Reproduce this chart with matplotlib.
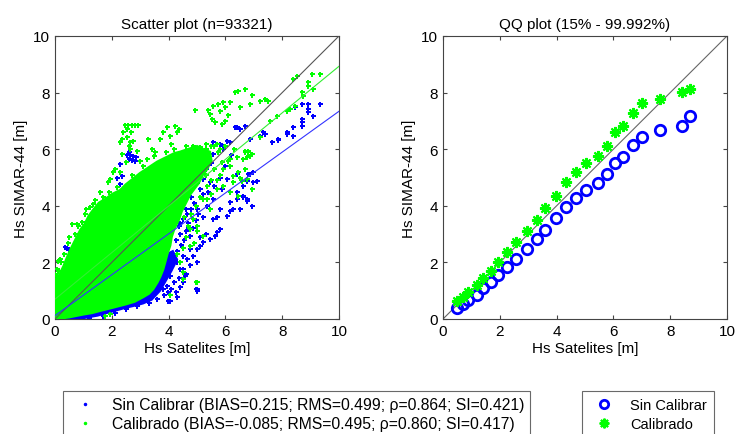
import matplotlib.pyplot as plt
import numpy as np
from matplotlib.lines import Line2D

plt.rcParams['font.family'] = ['Liberation Sans', 'DejaVu Sans']

BLUE = (0, 0, 1)
GREEN = (0, 1, 0)

# dense core of each cloud (outline of the solid region)
core_sin_x = [0, 0.5, 1.0, 1.5, 2.0, 2.5, 2.8, 3.1, 3.4, 3.7, 3.9, 4.1, 4.2, 4.3, 4.15, 3.95, 3.0, 0]
core_sin_y = [0, 0.0, 0.03, 0.12, 0.26, 0.4, 0.47, 0.55, 0.68, 1.0, 1.35, 1.7, 1.9, 2.1, 2.4, 2.3, 1.5, 0]
core_cal_x = [0, 0.5, 1.0, 1.3, 1.6, 2.0, 2.5, 2.8, 3.1, 3.3, 3.45, 3.6, 3.7, 3.8, 3.87, 3.95, 4.05,
              4.1, 4.2, 4.35, 4.45, 4.6, 4.75, 4.9, 5.05, 5.2, 5.35, 5.5, 5.45, 5.2, 5.0,
              4.7, 4.4, 4.2, 3.9, 3.6, 3.3, 3.0, 2.75, 2.5, 2.3, 2.0, 1.8, 1.55, 1.35, 1.2, 1.05,
              0.9, 0.75, 0.55, 0.4, 0.3, 0.15, 0.05, 0]
core_cal_y = [0, 0.07, 0.17, 0.22, 0.3, 0.4, 0.53, 0.62, 0.78, 0.9, 1.06, 1.3, 1.5, 1.75, 2.0, 2.3, 2.6,
              2.9, 3.2, 3.5, 3.8, 4.1, 4.4, 4.6, 4.8, 5.1, 5.3, 5.6, 5.9, 6.0, 6.1,
              6.0, 5.9, 5.85, 5.7, 5.55, 5.35, 5.15, 4.95, 4.75, 4.55, 4.4, 4.25, 4.1, 3.85, 3.65, 3.35,
              3.15, 2.85, 2.45, 2.1, 1.85, 1.55, 1.45, 1.3]

# scattered points outside the cores
sin_x = [6.40, 6.51, 6.87, 7.22, 7.39, 7.63, 7.86, 8.16, 8.39, 8.39, 8.45, 8.69, 8.92, 8.92, 8.69, 8.69, 8.69,
         9.33, 9.10, 8.92, 6.16, 5.81, 5.57, 5.93, 5.57, 6.05, 6.34, 6.69, 7.33, 7.86, 8.16,
         6.81, 7.10, 6.98, 6.63, 6.75, 6.93, 6.40, 6.51, 6.16, 5.81, 5.57, 5.81, 5.69, 5.46, 5.11, 4.87,
         4.64, 4.99, 5.63, 5.22, 4.99, 4.75, 4.52, 4.29, 4.40, 4.05, 3.93, 3.81, 3.99, 4.40, 4.52, 4.99,
         6.16, 6.40, 6.63, 6.75, 6.28, 6.05, 5.69, 6.40, 6.87, 6.98, 6.75, 6.63, 6.05, 5.87, 5.57, 5.34,
         4.99, 5.11, 5.46, 5.22, 4.57, 4.51, 4.98, 4.05, 3.99, 1.53,
         2.55, 2.65, 2.75, 2.85, 2.60, 2.70, 2.80, 2.62, 2.29, 2.35, 0.36, 0.42, 0.48, 0.55, 0.62,
         1.47, 2.29, 2.17, 4.11, 0.24, 4.6, 4.8, 5.0, 5.3, 5.5, 4.4, 4.7, 5.2,
         4.2, 4.3, 4.45, 4.55, 4.4, 4.6, 4.7, 4.5, 4.65, 4.8, 4.9, 4.25, 4.35, 4.75, 4.85, 4.95, 5.05,
         5.1, 5.3, 5.0, 4.75, 4.6, 4.35, 4.2, 4.1, 4.25, 3.85, 3.6, 3.3, 2.9, 2.5, 2.1, 1.7, 1.2, 4.3,
         5.2, 5.4, 5.6, 5.8, 6.0, 6.2, 5.9]
sin_y = [6.77, 6.71, 6.36, 6.48, 6.54, 6.24, 6.36, 6.54, 6.77, 6.48, 7.48, 7.60, 7.42, 7.30, 7.07, 6.95, 6.83,
         7.60, 7.18, 7.60, 6.24, 6.18, 5.83, 6.00, 6.24, 6.30, 6.77, 6.83, 6.60, 6.33, 6.60,
         5.12, 4.89, 4.83, 4.36, 4.24, 4.00, 4.24, 3.89, 3.83, 3.89, 3.53, 3.18, 3.06, 2.83, 2.59, 2.24,
         2.12, 1.06, 2.94, 2.71, 2.47, 2.47, 2.24, 2.00, 1.77, 1.53, 1.18, 1.06, 0.65, 1.12, 1.30, 1.00,
         4.12, 4.48, 4.30, 4.18, 3.89, 3.65, 3.59, 5.12, 5.12, 5.18, 4.89, 4.71, 4.95, 4.59, 4.24, 4.00,
         3.89, 4.59, 4.83, 4.95, 1.53, 1.76, 1.06, 0.65, 0.94, 0.24,
         5.80, 5.78, 5.75, 5.72, 5.65, 5.62, 5.60, 5.90, 5.48, 5.06, 2.55, 2.50, 2.45, 2.40, 2.42,
         3.12, 4.77, 5.00, 3.77, 1.41, 3.9, 4.3, 4.8, 5.3, 5.5, 3.4, 3.2, 3.6,
         2.2, 2.4, 2.6, 2.8, 3.0, 3.1, 3.4, 3.55, 3.7, 3.9, 4.1, 2.8, 3.3, 2.95, 3.2, 3.5, 3.7,
         2.9, 3.0, 2.0, 1.9, 1.6, 1.45, 1.3, 1.05, 0.95, 0.85, 0.7, 0.55, 0.45, 0.35, 0.22, 0.12, 0.03, 0.78,
         4.4, 4.5, 4.7, 5.0, 5.4, 5.8, 6.1]

cal_x = [6.34, 6.45, 6.69, 4.93, 5.40, 5.57, 5.75, 5.93, 6.16, 5.99, 5.81, 5.46, 6.10, 5.99, 5.87, 5.63, 5.52,
         6.51, 6.87, 6.93, 7.22, 7.39, 7.51, 8.39, 8.51, 9.04, 9.33, 8.92, 8.92, 8.69, 8.74, 9.10, 8.45,
         8.27, 8.16, 7.81, 7.57, 7.22,
         4.87, 5.11, 6.69, 6.81, 6.93, 6.75, 6.63, 6.40, 6.16, 6.45, 6.69, 6.75, 6.28, 5.93, 5.69, 6.16,
         6.45, 5.34, 4.99, 5.22, 4.75, 4.52, 4.52, 4.99, 6.28, 6.51, 6.57, 6.69, 6.81, 6.87, 5.75, 5.87,
         6.16, 5.34, 5.22, 5.46, 4.87, 4.75, 6.93, 5.2, 5.4, 5.6, 5.3, 5.5, 5.8, 5.1, 5.5, 5.7, 5.0, 5.3,
         2.46, 2.58, 2.70, 2.82, 2.92, 2.52, 2.69, 2.52, 2.64, 2.35, 2.29, 2.64, 2.88, 2.35, 3.29, 3.70,
         3.93, 4.23, 3.81, 4.05, 4.29, 3.52, 3.23, 2.11, 2.05, 2.4, 2.75, 2.6, 2.5, 4.35, 4.1, 3.4, 3.0,
         0.76, 0.94, 0.59, 1.12, 1.35, 1.23, 1.88, 1.94, 2.29, 0.06, 0.06, 0.18, 0.10, 0.45, 0.70, 1.05,
         1.60, 1.70, 1.76, 1.94, 4.98, 4.05,
         4.3, 4.5, 4.6, 4.7, 4.8, 4.95, 5.1, 4.4, 4.55, 4.9, 5.0, 5.5, 5.7, 5.9, 6.1, 5.6, 5.3, 5.8, 6.3,
         6.0, 4.6, 4.2, 3.9, 3.5, 3.1, 2.7, 2.2, 1.9, 1.4, 1.1, 0.8, 0.5, 0.3, 0.2, 0.0, 0.1]
cal_y = [8.03, 8.07, 8.13, 7.40, 7.40, 7.54, 7.60, 7.66, 7.66, 7.48, 7.36, 7.24, 7.21, 7.01, 6.89, 6.95, 7.07,
         7.48, 7.60, 7.92, 7.71, 7.77, 7.71, 8.48, 8.60, 8.66, 8.66, 8.36, 8.24, 8.01, 7.89, 8.13, 7.54,
         7.42, 7.36, 7.16, 7.01, 6.42,
         6.12, 6.07, 5.95, 5.89, 5.83, 5.71, 5.65, 5.71, 5.42, 5.18, 5.30, 4.95, 4.83, 4.71, 4.59, 4.48,
         4.36, 4.24, 3.30, 2.94, 2.59, 1.65, 1.41, 1.30, 5.06, 5.00, 4.89, 5.89, 5.95, 5.77, 5.89, 5.54,
         5.65, 4.71, 4.24, 3.89, 3.53, 3.18, 4.59, 5.5, 5.8, 5.3, 5.1, 4.9, 5.1, 6.0, 6.1, 6.2, 5.9, 6.2,
         6.87, 6.87, 6.87, 6.87, 6.85, 6.71, 6.60, 6.42, 6.24, 6.36, 6.24, 6.00, 5.95, 5.83, 6.36, 6.36,
         6.77, 6.83, 6.60, 6.48, 6.60, 5.89, 5.65, 5.30, 5.18, 6.6, 6.3, 6.1, 5.55, 6.7, 6.2, 6.0, 5.6,
         3.36, 3.42, 3.36, 3.30, 4.06, 3.95, 4.83, 4.95, 5.18, 1.77, 1.53, 2.12, 2.05, 2.70, 3.00, 3.70,
         4.50, 4.30, 0.12, 0.18, 1.29, 0.85,
         2.3, 2.5, 2.9, 3.3, 3.7, 4.0, 4.3, 2.0, 3.6, 2.7, 3.1, 4.4, 4.9, 5.3, 5.6, 6.1, 6.0, 6.0, 6.0,
         6.1, 6.1, 6.0, 5.9, 5.75, 5.4, 5.1, 4.65, 4.5, 4.2, 3.9, 3.3, 2.9, 2.3, 2.0, 1.6, 1.7]

# linear fits
fit_sin = (0.722, 0.12)
fit_cal = (0.823, 0.70)

# quantiles
qq_sat = [0.48, 0.69, 0.88, 1.18, 1.42, 1.69, 1.94, 2.24, 2.56, 2.97, 3.30, 3.60, 3.97, 4.33, 4.67,
          5.02, 5.46, 5.76, 6.07, 6.33, 6.69, 7.01, 7.63, 8.40, 8.71]
qq_sin = [0.39, 0.52, 0.67, 0.86, 1.08, 1.32, 1.55, 1.84, 2.13, 2.47, 2.81, 3.15, 3.56, 3.95, 4.27,
          4.56, 4.82, 5.12, 5.50, 5.74, 6.14, 6.42, 6.68, 6.82, 7.18]
qq_cal = [0.65, 0.77, 0.94, 1.20, 1.44, 1.70, 2.00, 2.36, 2.73, 3.12, 3.51, 3.92, 4.35, 4.85, 5.20,
          5.52, 5.77, 6.10, 6.62, 6.83, 7.28, 7.62, 7.77, 8.01, 8.13]

lbl_sin = 'Sin Calibrar (BIAS=0.215; RMS=0.499; \u03c1=0.864; SI=0.421)'
lbl_cal = 'Calibrado (BIAS=-0.085; RMS=0.495; \u03c1=0.860; SI=0.417)'

fig = plt.figure(figsize=(7.37, 4.35), dpi=100)
ax1 = fig.add_axes([55 / 737, 115 / 435, 284 / 737, 283 / 435])
ax2 = fig.add_axes([443 / 737, 115 / 435, 284 / 737, 283 / 435])

ms = dict(marker='P', markersize=3.6, linestyle='none', markeredgewidth=0)
ax1.fill(core_sin_x, core_sin_y, color=BLUE, lw=1.5, zorder=1)
ax1.plot(sin_x, sin_y, color=BLUE, zorder=2, **ms)
ax1.fill(core_cal_x, core_cal_y, color=GREEN, lw=2, zorder=3)
ax1.plot(cal_x, cal_y, color=GREEN, zorder=4, **ms)

xs = np.array([0, 10])
ax1.plot(xs, xs, color='#555555', lw=0.8, zorder=5)
ax1.plot(xs, fit_sin[0] * xs + fit_sin[1], color='#3333ff', lw=0.8, zorder=5)
ax1.plot(xs, fit_cal[0] * xs + fit_cal[1], color='#33ee33', lw=0.8, zorder=5)
ax1.set_title('Scatter plot (n=93321)', fontsize=11)

star = (8, 2, 0)
ax2.plot(xs, xs, color='#666666', lw=0.8, zorder=1)
ax2.plot(qq_sat, qq_sin, linestyle='none', marker='o', markersize=7.5, markerfacecolor='none',
         markeredgecolor=BLUE, markeredgewidth=2, zorder=2)
ax2.plot(qq_sat, qq_cal, linestyle='none', marker=star, markersize=8, markeredgecolor=GREEN,
         markeredgewidth=1.5, zorder=3)
ax2.set_title('QQ plot (15% - 99.992%)', fontsize=11)

for ax in (ax1, ax2):
    ax.set_xlim(0, 10)
    ax.set_ylim(0, 10)
    ax.set_xticks(range(0, 11, 2))
    ax.set_yticks(range(0, 11, 2))
    ax.tick_params(direction='in', top=True, right=True, labelsize=11, length=3, color='#444444')
    for s in ax.spines.values():
        s.set_color('#444444')
        s.set_linewidth(0.8)
    ax.set_xlabel('Hs Satelites [m]', fontsize=11, labelpad=2)
    ax.set_ylabel('Hs SIMAR-44 [m]', fontsize=11, labelpad=4)

h_sct = [Line2D([], [], color=BLUE, marker='.', markersize=3, linestyle='none'),
         Line2D([], [], color=GREEN, marker='.', markersize=3, linestyle='none')]
leg1 = fig.legend(h_sct, [lbl_sin, lbl_cal], loc='upper left', bbox_to_anchor=(63 / 737, 1 - 392 / 435),
                  borderaxespad=0, fontsize=11.3, frameon=True, fancybox=False, edgecolor='#444444',
                  handlelength=2.0, handletextpad=0.7, labelspacing=0.25, borderpad=0.4)
leg1.get_frame().set_linewidth(0.8)

h_qq = [Line2D([], [], linestyle='none', marker='o', markersize=6, markerfacecolor='none',
               markeredgecolor=BLUE, markeredgewidth=2),
        Line2D([], [], linestyle='none', marker=star, markersize=7, markeredgecolor=GREEN,
               markeredgewidth=1.5)]
leg2 = fig.legend(h_qq, ['Sin Calibrar', 'Calibrado'], loc='upper left', bbox_to_anchor=(582 / 737, 1 - 392 / 435),
                  borderaxespad=0, fontsize=10.5, frameon=True, fancybox=False, edgecolor='#444444',
                  handlelength=2.0, handletextpad=0.8, labelspacing=0.3, borderpad=0.5)
leg2.get_frame().set_linewidth(0.8)

fig.savefig('out.png', dpi=100)
